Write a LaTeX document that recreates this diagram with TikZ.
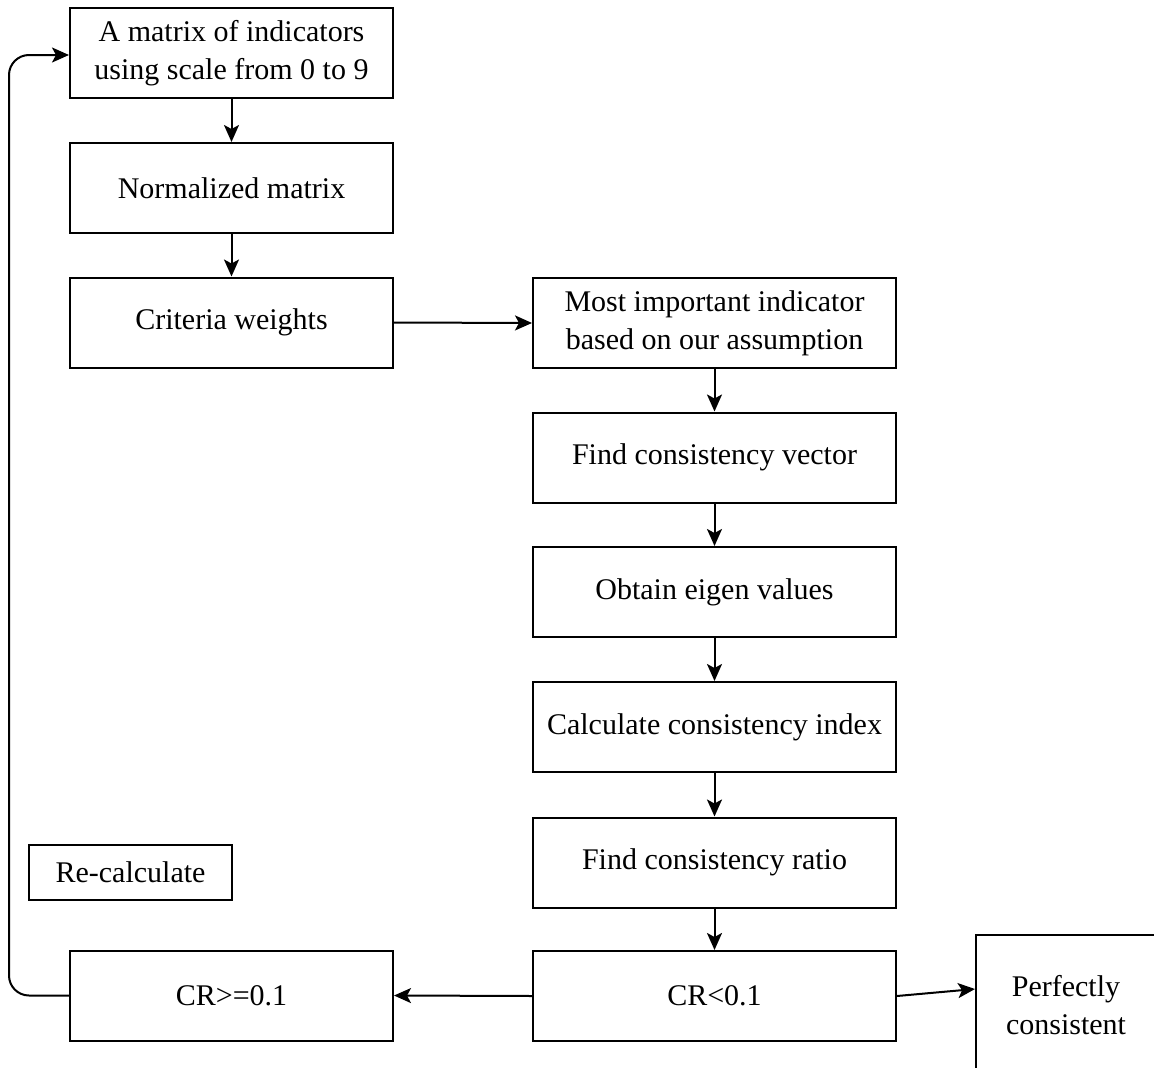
\documentclass[tikz,border=0pt]{standalone}
\usepackage{fontspec}
\setmainfont{Liberation Serif}
\usetikzlibrary{arrows.meta}
\begin{document}
\begin{tikzpicture}[x=1pt,y=-1pt,
  box/.style={draw=black, line width=2pt, rectangle, inner sep=0pt,
    align=center, font=\fontsize{30}{38}\selectfont, text=black},
  leftbox/.style={box, minimum width=323pt, minimum height=90pt},
  rightbox/.style={box, minimum width=363pt, minimum height=90pt},
  flow/.style={line width=2pt, -{Stealth[length=17pt,width=15pt,inset=4pt]}}]
\useasboundingbox (0,0) rectangle (1154,1068);

% left column
\node[leftbox] (m1) at (231.5,53) {A matrix of indicators\\using scale from 0 to 9};
\node[leftbox] (m2) at (231.5,188) {Normalized matrix};
\node[leftbox] (m3) at (231.5,322.5) {Criteria weights};
\node[leftbox] (m10) at (231.5,995.5) {CR>=0.1};
\node[box, line width=2.6pt, minimum width=203pt, minimum height=55pt] (re) at (130.5,872.5) {Re-calculate};

% right column
\node[rightbox] (c4) at (714.5,323) {Most important indicator\\based on our assumption};
\node[rightbox] (c5) at (714.5,457.5) {Find consistency vector};
\node[rightbox] (c6) at (714.5,592) {Obtain eigen values};
\node[rightbox] (c7) at (714.5,727) {Calculate consistency index};
\node[rightbox] (c8) at (714.5,862.5) {Find consistency ratio};
\node[rightbox] (c9) at (714.5,996) {CR<0.1};

% outcome box, running off the page edge
\node[box, minimum width=180pt, minimum height=140pt] (pc) at (1066,1005) {Perfectly\\consistent};

% connectors
\draw[flow] (m1) -- (m2);
\draw[flow] (m2) -- (m3);
\draw[flow] (m3.east) -- (c4.west);
\draw[flow] (c4) -- (c5);
\draw[flow] (c5) -- (c6);
\draw[flow] (c6) -- (c7);
\draw[flow] (c7) -- (c8);
\draw[flow] (c8) -- (c9);
\draw[flow] (c9.west) -- (m10.east);
\draw[flow] (c9.east) -- ([yshift=16pt]pc.west);
\draw[flow, rounded corners=20pt] (m10.west) -- ++(-60,0) |- ([yshift=-2pt]m1.west);
\end{tikzpicture}
\end{document}
